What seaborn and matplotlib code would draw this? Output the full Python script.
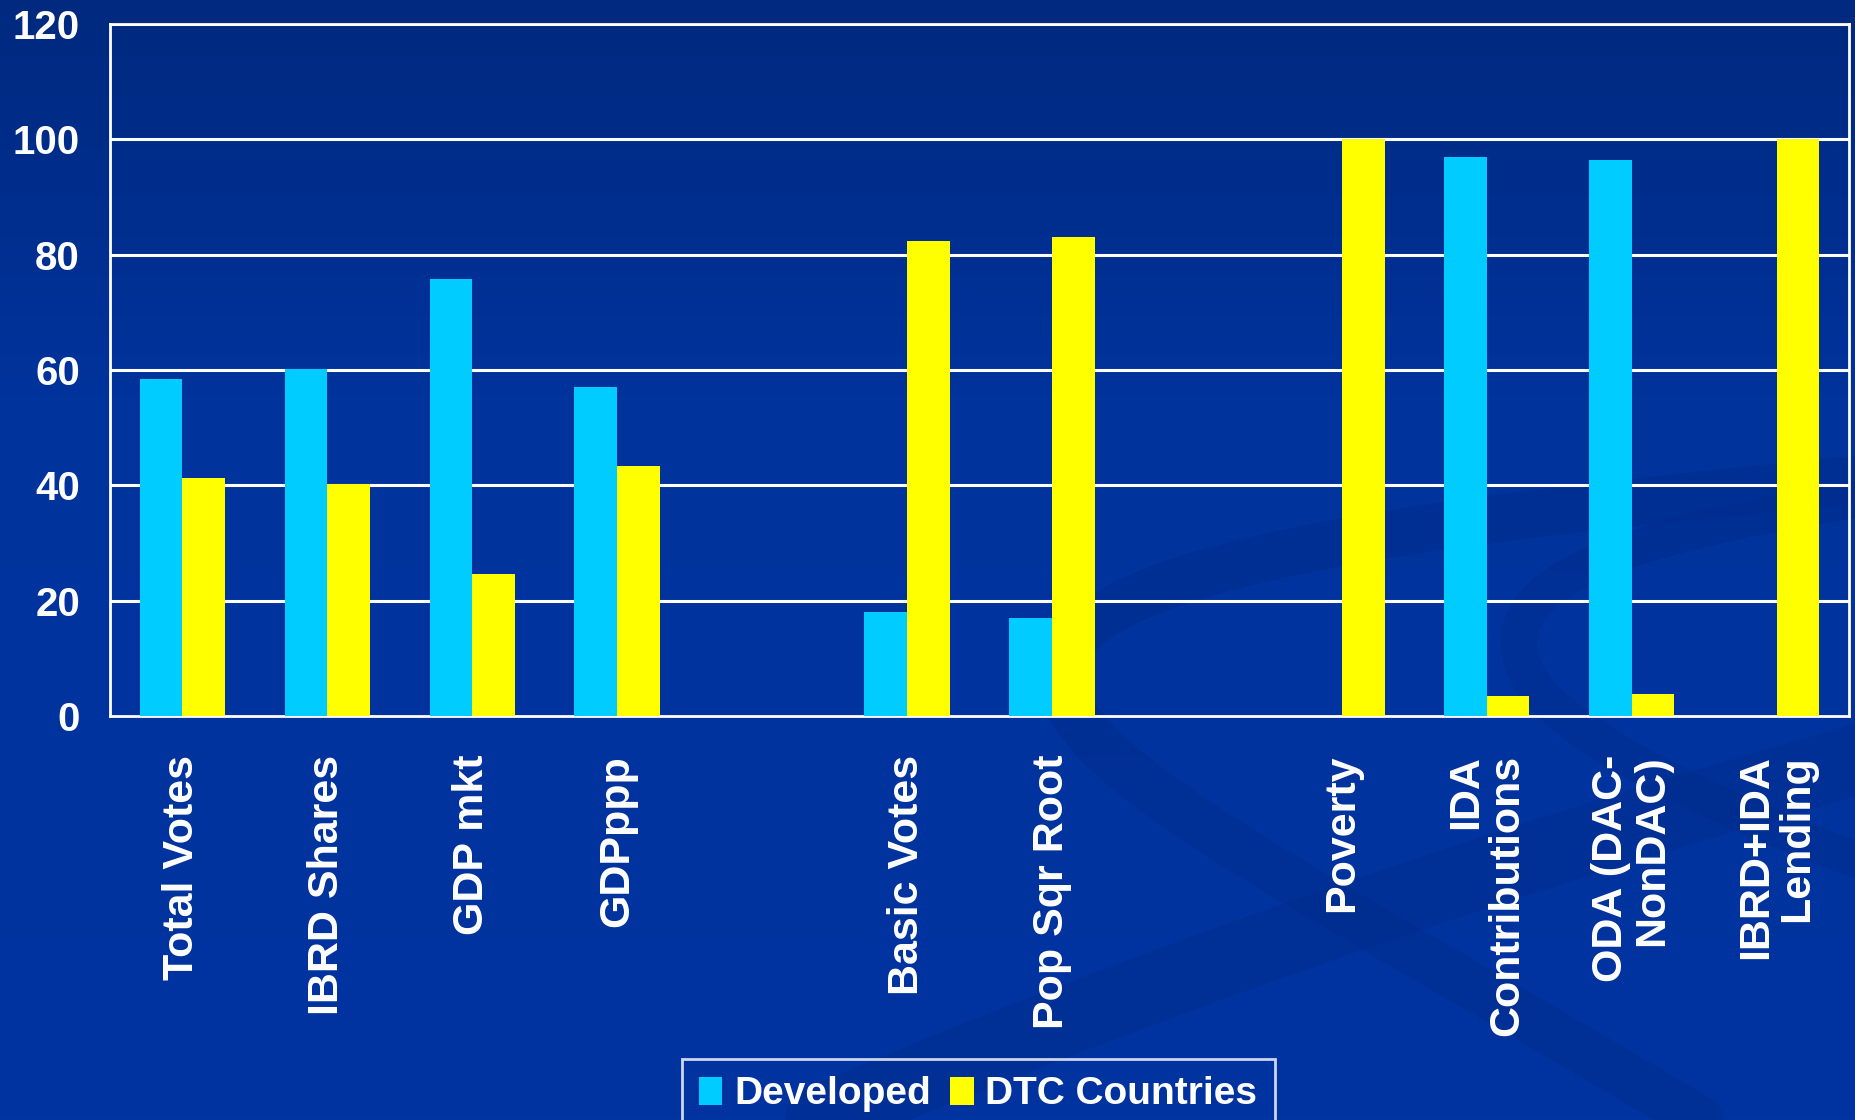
import numpy as np
import pandas as pd
import matplotlib
matplotlib.use("Agg")
import matplotlib.pyplot as plt
from matplotlib.path import Path
from matplotlib.patches import PathPatch
from matplotlib.colors import LinearSegmentedColormap
import seaborn as sns

# ---- data ----
categories = ["Total Votes", "IBRD Shares", "GDP mkt", "GDPppp",
              "Basic Votes", "Pop Sqr Root",
              "Poverty", "IDA\nContributions", "ODA (DAC-\nNonDAC)", "IBRD+IDA\nLending"]
developed = [58.5, 60.2, 75.8, 57.1, 18.1, 17.0, 0.0, 96.9, 96.5, 0.0]
dtc = [41.3, 40.2, 24.6, 43.3, 82.3, 83.0, 100.0, 3.5, 3.9, 100.0]
series_names = ["Developed", "DTC Countries"]
slot_order = ["Total Votes", "IBRD Shares", "GDP mkt", "GDPppp", " ",
              "Basic Votes", "Pop Sqr Root", "  ",
              "Poverty", "IDA\nContributions", "ODA (DAC-\nNonDAC)", "IBRD+IDA\nLending"]
y_ticks = [0, 20, 40, 60, 80, 100, 120]

df = pd.DataFrame({
    "category": categories * 2,
    "value": developed + dtc,
    "series": [series_names[0]] * len(categories) + [series_names[1]] * len(categories),
})

sns.set_style("white")
plt.rcParams["font.family"] = ["Liberation Sans", "DejaVu Sans"]

W, H = 1856, 1120
fig = plt.figure(figsize=(W / 100, H / 100), dpi=100)

# ---- background gradient + swoosh decoration ----
bg = fig.add_axes([0, 0, 1, 1], zorder=-10)
bg.set_xlim(0, W)
bg.set_ylim(H, 0)
bg.axis("off")
cmap = LinearSegmentedColormap.from_list(
    "bgc", [(0.0, "#00297F"), (0.35, "#00339C"), (1.0, "#0034A0")])
grad = np.linspace(0, 1, 256).reshape(-1, 1)
bg.imshow(grad, cmap=cmap, aspect="auto", extent=(0, W, H, 0), zorder=0)

swoosh_col = "#002A88"
def stroke(verts, lw, alpha):
    codes = [Path.MOVETO] + [Path.CURVE4] * (len(verts) - 1)
    bg.add_patch(PathPatch(Path(verts, codes), fill=False, lw=lw,
                           edgecolor=swoosh_col, alpha=alpha, capstyle="round", zorder=1))

stroke([(1850, 480), (1450, 520), (1050, 560), (1060, 680),
        (1080, 780), (1300, 880), (1700, 1120)], 34, 0.4)
stroke([(1856, 500), (1600, 540), (1480, 590), (1530, 680),
        (1570, 740), (1700, 800), (1856, 860)], 26, 0.38)
stroke([(820, 1120), (1150, 980), (1500, 860), (1856, 760)], 50, 0.35)

# ---- main axes ----
ax = fig.add_axes([110 / W, 1 - 716 / H, (1849 - 110) / W, (716 - 24) / H])
ax.patch.set_alpha(0)

sns.barplot(data=df, x="category", y="value", hue="series",
            order=slot_order, hue_order=series_names,
            palette=["#00CCFF", "#FFFF00"], saturation=1, width=0.59,
            errorbar=None, ax=ax, zorder=3, linewidth=0, edgecolor="none")

ax.set_xlim(-0.5, len(slot_order) - 0.5)
ax.set_ylim(0, 120)
ax.set_yticks(y_ticks)
ax.set_xlabel("")
ax.set_ylabel("")

ax.grid(False)
for yv in y_ticks[1:]:
    ax.axhline(yv, color="white", lw=2.2, zorder=1)

for s in ["left", "bottom", "right", "top"]:
    ax.spines[s].set_color("white")
    ax.spines[s].set_linewidth(2)
    ax.spines[s].set_visible(True)

ax.set_xticks(range(len(slot_order)))
ax.set_xticklabels(slot_order, rotation=90, fontsize=31, fontweight="bold",
                   color="white", va="top", ha="center",
                   multialignment="right", linespacing=1.05)
ax.tick_params(axis="x", which="major", length=0, pad=28)
ax.set_xticks(np.arange(-0.5, len(slot_order), 1.0), minor=True)
ax.tick_params(axis="x", which="minor", length=9.5, width=1.6, color="white", direction="out")

ax.tick_params(axis="y", which="major", length=8.6, width=1.6, color="white",
               direction="out", pad=13, labelsize=29, labelcolor="white")
for t in ax.get_yticklabels():
    t.set_fontweight("bold")

# ---- legend ----
handles, labels = ax.get_legend_handles_labels()
if ax.get_legend() is not None:
    ax.get_legend().remove()
leg = fig.legend(handles, labels, loc="upper center", bbox_to_anchor=(0.527, 1 - 1059 / H),
                 ncol=2, frameon=True, fancybox=False, shadow=False, borderaxespad=0,
                 prop={"weight": "bold", "size": 28, "family": ["Liberation Sans", "DejaVu Sans"]},
                 handlelength=0.6, handleheight=0.72, handletextpad=0.3,
                 columnspacing=0.5, borderpad=0.45)
leg.get_frame().set_edgecolor("white")
leg.get_frame().set_facecolor("none")
leg.get_frame().set_linewidth(2)
for t in leg.get_texts():
    t.set_color("white")
for h in leg.legend_handles:
    h.set_linewidth(0)

fig.savefig("out.png", dpi=100)
